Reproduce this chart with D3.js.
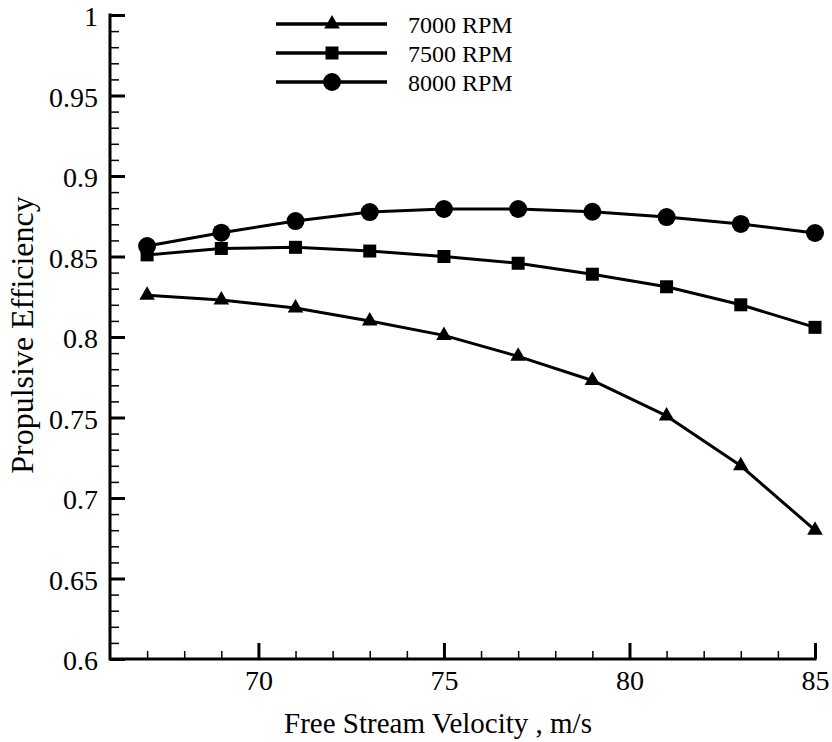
<!DOCTYPE html>
<html>
<head>
<meta charset="utf-8">
<script src="https://cdn.jsdelivr.net/npm/d3@7"></script>
</head>
<body style="margin:0;padding:0;background:#fff">
<svg id="chart" width="832" height="742" style="display:block;background:#fff"></svg>
<script>
// ---- data ----
const velocity = [67, 69, 71, 73, 75, 77, 79, 81, 83, 85];
const rpm7000 = [0.826, 0.823, 0.818, 0.810, 0.801, 0.788, 0.773, 0.751, 0.720, 0.680];
const rpm7500 = [0.851, 0.855, 0.8557, 0.8534, 0.850, 0.8458, 0.839, 0.8312, 0.820, 0.806];
const rpm8000 = [0.8565, 0.8648, 0.8720, 0.8776, 0.8795, 0.8795, 0.8778, 0.8745, 0.8702, 0.8646];
const seriesNames = ["7000 RPM", "7500 RPM", "8000 RPM"];
const seriesMarkers = ["triangle", "square", "circle"];
const xMajorTicks = [70, 75, 80, 85];
const xMinorTicks = [67, 68, 69, 71, 72, 73, 74, 76, 77, 78, 79, 81, 82, 83, 84];
const yMajorTicks = [0.6, 0.65, 0.7, 0.75, 0.8, 0.85, 0.9, 0.95, 1];
const yMinorTicks = d3.range(61, 100).filter(v => v % 5 !== 0).map(v => v / 100);
const xTitle = "Free Stream Velocity , m/s";
const yTitle = "Propulsive Efficiency";

const series = [rpm7000, rpm7500, rpm8000].map((vals, i) => ({
  name: seriesNames[i],
  marker: seriesMarkers[i],
  points: velocity.map((v, j) => ({ x: v, y: vals[j] }))
}));

// ---- layout ----
const svg = d3.select("#chart");
const x = d3.scaleLinear().domain([66, 85]).range([110, 815]);
const y = d3.scaleLinear().domain([0.6, 1]).range([659, 15]);
const font = '"Liberation Serif", "Times New Roman", Times, serif';

// minor ticks
svg.append("g")
  .attr("transform", `translate(0,${y(0.6)})`)
  .call(d3.axisBottom(x).tickValues(xMinorTicks).tickSizeInner(-8).tickSizeOuter(0).tickFormat(""))
  .call(g => g.select(".domain").remove())
  .call(g => g.selectAll("line").attr("stroke", "#000").attr("stroke-width", 1.5));
svg.append("g")
  .attr("transform", `translate(${x(66)},0)`)
  .call(d3.axisLeft(y).tickValues(yMinorTicks).tickSizeInner(-9).tickSizeOuter(0).tickFormat(""))
  .call(g => g.select(".domain").remove())
  .call(g => g.selectAll("line").attr("stroke", "#000").attr("stroke-width", 1.5));

// major axes
const xAxis = svg.append("g")
  .attr("transform", `translate(0,${y(0.6)})`)
  .call(d3.axisBottom(x).tickValues(xMajorTicks).tickSizeInner(-16).tickSizeOuter(0).tickPadding(11).tickFormat(d => String(d)));
xAxis.attr("font-family", null);
xAxis.select(".domain").attr("stroke", "#000").attr("stroke-width", 3).attr("d", `M${x(66)},0H${x(85) + 1.5}`);
xAxis.selectAll("line").attr("stroke", "#000").attr("stroke-width", 3);
xAxis.selectAll("text").style("font-family", font).style("font-size", "28px").attr("fill", "#000").attr("dy", "0.71em");

const yAxis = svg.append("g")
  .attr("transform", `translate(${x(66)},0)`)
  .call(d3.axisLeft(y).tickValues(yMajorTicks).tickSizeInner(-15).tickSizeOuter(0).tickPadding(12).tickFormat(d => String(d)));
yAxis.attr("font-family", null);
yAxis.select(".domain").attr("stroke", "#000").attr("stroke-width", 3).attr("d", `M0,${y(1) - 1.5}V${y(0.6) + 1.5}`);
yAxis.selectAll("line").attr("stroke", "#000").attr("stroke-width", 3);
yAxis.selectAll("text").style("font-family", font).style("font-size", "28px").attr("fill", "#000").attr("dy", "0.38em");

// axis titles
svg.append("text")
  .attr("x", 438).attr("y", 733)
  .attr("text-anchor", "middle")
  .style("font-family", font).style("font-size", "29px")
  .attr("fill", "#000")
  .text(xTitle);
svg.append("text")
  .attr("transform", "translate(33,335) rotate(-90)")
  .attr("text-anchor", "middle")
  .style("font-family", font).style("font-size", "32px")
  .attr("fill", "#000")
  .text(yTitle);

// markers
function markerPath(type) {
  if (type === "circle") return d3.symbol().type(d3.symbolCircle).size(Math.PI * 9 * 9)();
  if (type === "square") return d3.symbol().type(d3.symbolSquare).size(13 * 13)();
  return d3.symbol().type(d3.symbolTriangle).size(105)();
}

const line = d3.line().x(d => x(d.x)).y(d => y(d.y));
series.forEach(s => {
  svg.append("path")
    .datum(s.points)
    .attr("fill", "none")
    .attr("stroke", "#000")
    .attr("stroke-width", 3)
    .attr("stroke-linejoin", "round")
    .attr("d", line);
  svg.append("g").selectAll("path")
    .data(s.points)
    .join("path")
    .attr("transform", d => `translate(${x(d.x)},${y(d.y)})`)
    .attr("d", markerPath(s.marker))
    .attr("fill", "#000");
});

// legend
const legend = svg.append("g");
series.forEach((s, i) => {
  const ly = 24 + i * 29;
  legend.append("line")
    .attr("x1", 276).attr("x2", 387).attr("y1", ly).attr("y2", ly)
    .attr("stroke", "#000").attr("stroke-width", 3.5);
  legend.append("path")
    .attr("transform", `translate(332,${ly})`)
    .attr("d", markerPath(s.marker))
    .attr("fill", "#000");
  legend.append("text")
    .attr("x", 408).attr("y", ly + 9)
    .style("font-family", font).style("font-size", "24px")
    .attr("fill", "#000")
    .text(s.name);
});
</script>
</body>
</html>
